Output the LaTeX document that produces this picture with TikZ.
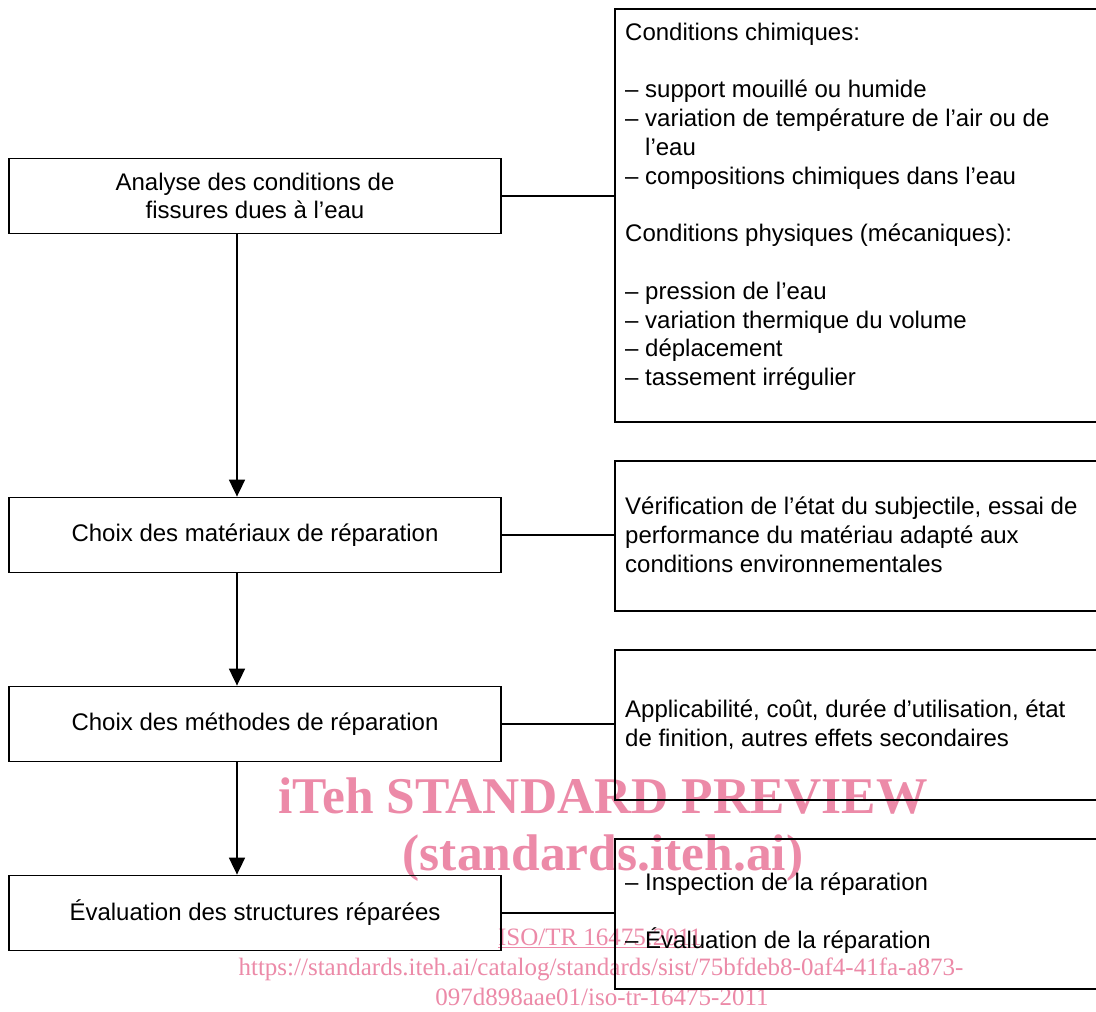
\documentclass[tikz,border=0pt]{standalone}
\usepackage{fontspec}
\setmainfont{Liberation Sans}
\newfontfamily\wmfont{Liberation Serif}
\usetikzlibrary{arrows.meta}
\definecolor{wm}{RGB}{236,138,168}
\begin{document}
\begin{tikzpicture}[x=1pt,y=-1pt,
  lbox/.style={draw, line width=1.8pt, minimum width=492pt, minimum height=75pt, inner sep=0pt, align=center, font=\fontsize{24}{28.8}\selectfont},
  rbox/.style={draw, line width=1.8pt, anchor=north west, inner sep=0pt, minimum width=540pt},
  rtext/.style={anchor=base west, inner sep=0pt, align=left, font=\fontsize{24}{28.8}\selectfont},
  link/.style={line width=1.8pt},
  flow/.style={line width=1.8pt, -{Triangle[length=17pt,width=16pt]}},
  wmark/.style={text=wm, inner sep=0pt, anchor=base},
  wbig/.style={wmark, font=\wmfont\bfseries\fontsize{51.5}{51.5}\selectfont},
  wsmall/.style={wmark, font=\wmfont\fontsize{25}{25}\selectfont}]
\clip (0,0) rectangle (1096,1012);
\fill[white] (0,0) rectangle (1096,1012);

% watermark
\node[wbig] (w1) at (603,813) {iTeh STANDARD PREVIEW};
\node[wbig] (w2) at (603,870) {(standards.iteh.ai)};
\node[wsmall] (w3) at (600,945) {\underline{ISO/TR 16475:2011}};
\node[wsmall] (w4) at (601,975) {https://standards.iteh.ai/catalog/standards/sist/75bfdeb8-0af4-41fa-a873-};
\node[wsmall] (w5) at (602,1005) {097d898aae01/iso-tr-16475-2011};

% left boxes
\node[lbox] (l1) at (255,196) {Analyse des conditions de\\fissures dues à l’eau};
\node[lbox] (l2) at (255,535) {Choix des matériaux de réparation};
\node[lbox] (l3) at (255,724) {Choix des méthodes de réparation};
\node[lbox] (l4) at (255,913) {Évaluation des structures réparées};

% right boxes
\node[rbox, minimum height=413pt] (r1) at (614,8) {};
\node[rbox, minimum height=150pt] (r2) at (614,460) {};
\node[rbox, minimum height=150pt] (r3) at (614,649) {};
\node[rbox, minimum height=150pt] (r4) at (614,838) {};

% text blocks (anchored at the baseline of their last line)
\node[rtext] (t1) at (625,385.6) {Conditions chimiques:\\[28.8pt]
– support mouillé ou humide\\
– variation de température de l’air ou de\\
\phantom{– }l’eau\\
– compositions chimiques dans l’eau\\[28.8pt]
Conditions physiques (mécaniques):\\[28.8pt]
– pression de l’eau\\
– variation thermique du volume\\
– déplacement\\
– tassement irrégulier};
\node[rtext] (t2) at (625,572) {Vérification de l’état du subjectile, essai de\\performance du matériau adapté aux\\conditions environnementales};
\node[rtext] (t3) at (625,746) {Applicabilité, coût, durée d’utilisation, état\\de finition, autres effets secondaires};
\node[rtext] (t4) at (625,948) {– Inspection de la réparation\\[28.8pt]– Évaluation de la réparation};

% connectors
\draw[link] (l1.east) -- (l1.east -| r1.west);
\draw[link] (l2.east) -- (l2.east -| r2.west);
\draw[link] (l3.east) -- (l3.east -| r3.west);
\draw[link] (l4.east) -- (l4.east -| r4.west);

\coordinate (ax) at (237,0);
\draw[flow] (ax |- l1.south) -- (ax |- l2.north);
\draw[flow] (ax |- l2.south) -- (ax |- l3.north);
\draw[flow] (ax |- l3.south) -- (ax |- l4.north);
\end{tikzpicture}
\end{document}
